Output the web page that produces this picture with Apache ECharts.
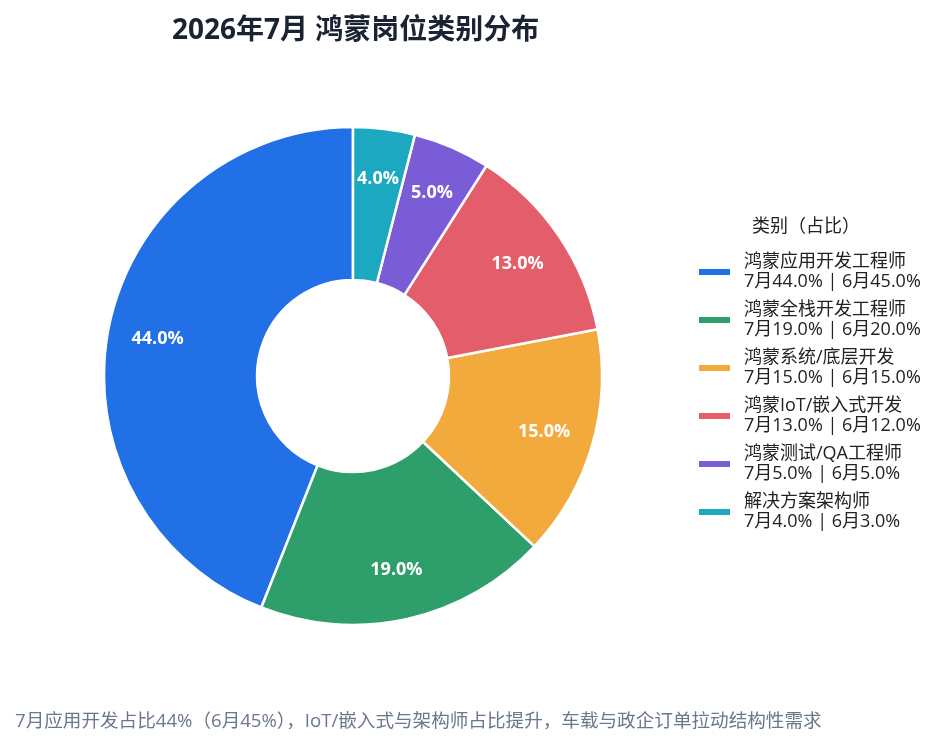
<!DOCTYPE html>
<html>
<head>
<meta charset="utf-8">
<title>鸿蒙岗位类别分布</title>
<script src="https://cdn.jsdelivr.net/npm/echarts@6/dist/echarts.min.js"></script>
<style>
html,body{margin:0;padding:0;background:#fff;}
#main{width:945px;height:746px;}
</style>
</head>
<body>
<div id="main"></div>
<script>
// 岗位类别
var categories = ['鸿蒙应用开发工程师', '鸿蒙全栈开发工程师', '鸿蒙系统/底层开发', '鸿蒙IoT/嵌入式开发', '鸿蒙测试/QA工程师', '解决方案架构师'];
var julyShare = [44.0, 19.0, 15.0, 13.0, 5.0, 4.0];//7月占比
var juneShare = [45.0, 20.0, 15.0, 12.0, 5.0, 3.0];//6月占比
var colors = ['#2170e6', '#2e9e6b', '#f2aa3c', '#e35d6a', '#7a5cd6', '#1ba8c0'];

var FONT = '"Open Sans", "Noto Sans CJK SC", sans-serif';

var pieData = [];
var labelData = [];//只用来放百分比标签，扇区透明
for (var i = 0; i < categories.length; i++) {
	pieData.push({ name: categories[i], value: julyShare[i], itemStyle: { color: colors[i] } });
	labelData.push({ name: categories[i], value: julyShare[i] });
}

var myChart = echarts.init(document.getElementById('main'));
var option = {
	backgroundColor: '#fff',
	textStyle: { fontFamily: FONT },
	title: [{
		text: '2026年7月 鸿蒙岗位类别分布',
		left: 167,
		top: 12,
		textStyle: { fontSize: 28, fontWeight: 'bold', color: '#1a2233', fontFamily: FONT }
	}, {
		text: '类别（占比）',
		left: 747,
		top: 213,
		textStyle: { fontSize: 18, fontWeight: 'normal', color: '#222', fontFamily: FONT }
	}, {
		text: '7月应用开发占比44%（6月45%），IoT/嵌入式与架构师占比提升，车载与政企订单拉动结构性需求',
		left: 10,
		top: 707,
		textStyle: { fontSize: 18.6, fontWeight: 'normal', color: '#6b778c', fontFamily: FONT }
	}],
	legend: {
		orient: 'vertical',
		left: 692,
		top: 247,
		itemWidth: 33,
		itemHeight: 8,
		itemGap: 8,
		icon: 'rect',
		textStyle: { fontSize: 18, lineHeight: 20, color: '#222', fontFamily: FONT, padding: [0, 0, 0, 8] },
		formatter: function (name) {
			var idx = categories.indexOf(name);
			return name + '\n7月' + julyShare[idx].toFixed(1) + '% | 6月' + juneShare[idx].toFixed(1) + '%';
		},
		data: categories
	},
	series: [{
		name: '岗位类别',
		type: 'pie',
		center: [353, 376],
		radius: [96, 249],
		startAngle: 90,
		clockwise: false,
		avoidLabelOverlap: false,
		itemStyle: { borderColor: '#fff', borderWidth: 2.5 },
		label: { show: false },
		labelLine: { show: false },
		emphasis: { scale: false },
		data: pieData
	}, {
		name: '标签',
		type: 'pie',
		center: [353, 376],
		radius: [143, 249],
		startAngle: 90,
		clockwise: false,
		silent: true,
		avoidLabelOverlap: false,
		itemStyle: { color: 'rgba(0,0,0,0)', borderWidth: 0 },
		label: {
			show: true,
			position: 'inside',
			color: '#fff',
			fontSize: 18,
			fontWeight: 'bold',
			fontFamily: FONT,
			formatter: function (p) { return p.value.toFixed(1) + '%'; }
		},
		labelLine: { show: false },
		emphasis: { disabled: true },
		data: labelData
	}]
};
myChart.setOption(option);
</script>
</body>
</html>
